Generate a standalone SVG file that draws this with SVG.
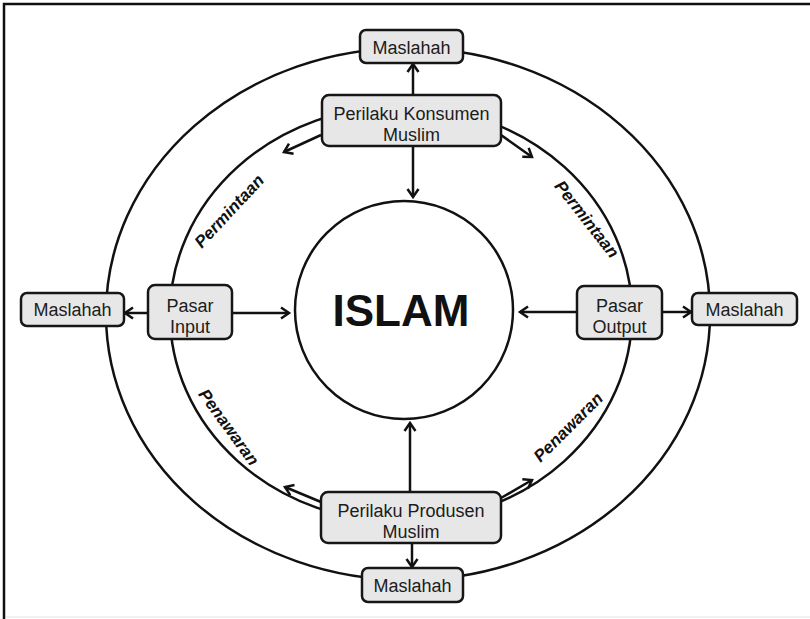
<svg xmlns="http://www.w3.org/2000/svg" width="810" height="619" viewBox="0 0 810 619">
<defs>
<marker id="ah" markerUnits="userSpaceOnUse" markerWidth="14" markerHeight="14" refX="8.5" refY="6" orient="auto" overflow="visible">
<path d="M0.5,0.5 L8.5,6 L0.5,11.5" fill="none" stroke="#111" stroke-width="2.5" stroke-linejoin="miter"/>
</marker>
</defs>
<style>
.ring{fill:none;stroke:#111;stroke-width:2.5}
.box{fill:#e7e7e7;stroke:#161616;stroke-width:2.5}
.lbl{font-family:"Liberation Sans",Arial,sans-serif;font-size:18px;fill:#1c1c1c;text-anchor:middle}
.flow{font-family:"Liberation Sans",Arial,sans-serif;font-size:17px;font-weight:bold;font-style:italic;fill:#111;text-anchor:middle}
.con{stroke:#111;stroke-width:2.5;fill:none;marker-end:url(#ah)}
</style>
<rect x="0" y="0" width="810" height="619" fill="#fff"/>
<path d="M4,619 V4 H810" fill="none" stroke="#111" stroke-width="2.5"/>
<line x1="6" y1="617" x2="810" y2="617" stroke="#eee" stroke-width="1.5"/>

<g id="rings">
<ellipse class="ring" cx="408" cy="314" rx="302" ry="266"/>
<ellipse class="ring" cx="401" cy="314" rx="231" ry="208"/>
</g>

<g id="islam">
<circle class="ring" cx="404" cy="310" r="109"/>
<text x="401" y="326" font-family="Liberation Sans,Arial,sans-serif" font-size="44" font-weight="bold" fill="#111" text-anchor="middle">ISLAM</text>
</g>

<g id="connectors">
<line class="con" x1="413" y1="95" x2="413" y2="64"/>
<line class="con" x1="413" y1="146" x2="413" y2="197"/>
<line class="con" x1="148" y1="313" x2="125" y2="313"/>
<line class="con" x1="232" y1="313" x2="289" y2="313"/>
<line class="con" x1="577" y1="312" x2="520" y2="312"/>
<line class="con" x1="662" y1="312" x2="691" y2="312"/>
<line class="con" x1="410" y1="492" x2="410" y2="423"/>
<line class="con" x1="412" y1="543" x2="412" y2="567"/>
<line class="con" x1="321" y1="135" x2="284" y2="152"/>
<line class="con" x1="501" y1="135" x2="532" y2="157"/>
<line class="con" x1="321" y1="502" x2="285" y2="487"/>
<line class="con" x1="501" y1="498" x2="532" y2="480"/>
</g>

<g id="flow-labels">
<text class="flow" transform="translate(229,211) rotate(-47)" x="0" y="6">Permintaan</text>
<text class="flow" transform="translate(587,219) rotate(52)" x="0" y="6">Permintaan</text>
<text class="flow" transform="translate(229,427) rotate(54)" x="0" y="6">Penawaran</text>
<text class="flow" transform="translate(568,427) rotate(-45)" x="0" y="6">Penawaran</text>
</g>

<g id="maslahah-top">
<rect class="box" x="360" y="30" width="103" height="33" rx="6"/>
<text class="lbl" x="411.5" y="54">Maslahah</text>
</g>
<g id="konsumen">
<rect class="box" x="322" y="95" width="179" height="51" rx="7"/>
<text class="lbl" x="411.5" y="120">Perilaku Konsumen</text>
<text class="lbl" x="411.5" y="141">Muslim</text>
</g>
<g id="maslahah-left">
<rect class="box" x="21" y="293" width="103" height="33" rx="6"/>
<text class="lbl" x="72.5" y="316">Maslahah</text>
</g>
<g id="pasar-input">
<rect class="box" x="148" y="285" width="84" height="54" rx="7"/>
<text class="lbl" x="190" y="312">Pasar</text>
<text class="lbl" x="190" y="333">Input</text>
</g>
<g id="pasar-output">
<rect class="box" x="577" y="286" width="85" height="53" rx="7"/>
<text class="lbl" x="619.5" y="312">Pasar</text>
<text class="lbl" x="619.5" y="333">Output</text>
</g>
<g id="maslahah-right">
<rect class="box" x="692" y="293" width="105" height="32" rx="6"/>
<text class="lbl" x="744.5" y="316">Maslahah</text>
</g>
<g id="produsen">
<rect class="box" x="321" y="492" width="180" height="51" rx="7"/>
<text class="lbl" x="411" y="517">Perilaku Produsen</text>
<text class="lbl" x="411" y="538">Muslim</text>
</g>
<g id="maslahah-bottom">
<rect class="box" x="362" y="568" width="101" height="34" rx="6"/>
<text class="lbl" x="412.5" y="592">Maslahah</text>
</g>
</svg>
